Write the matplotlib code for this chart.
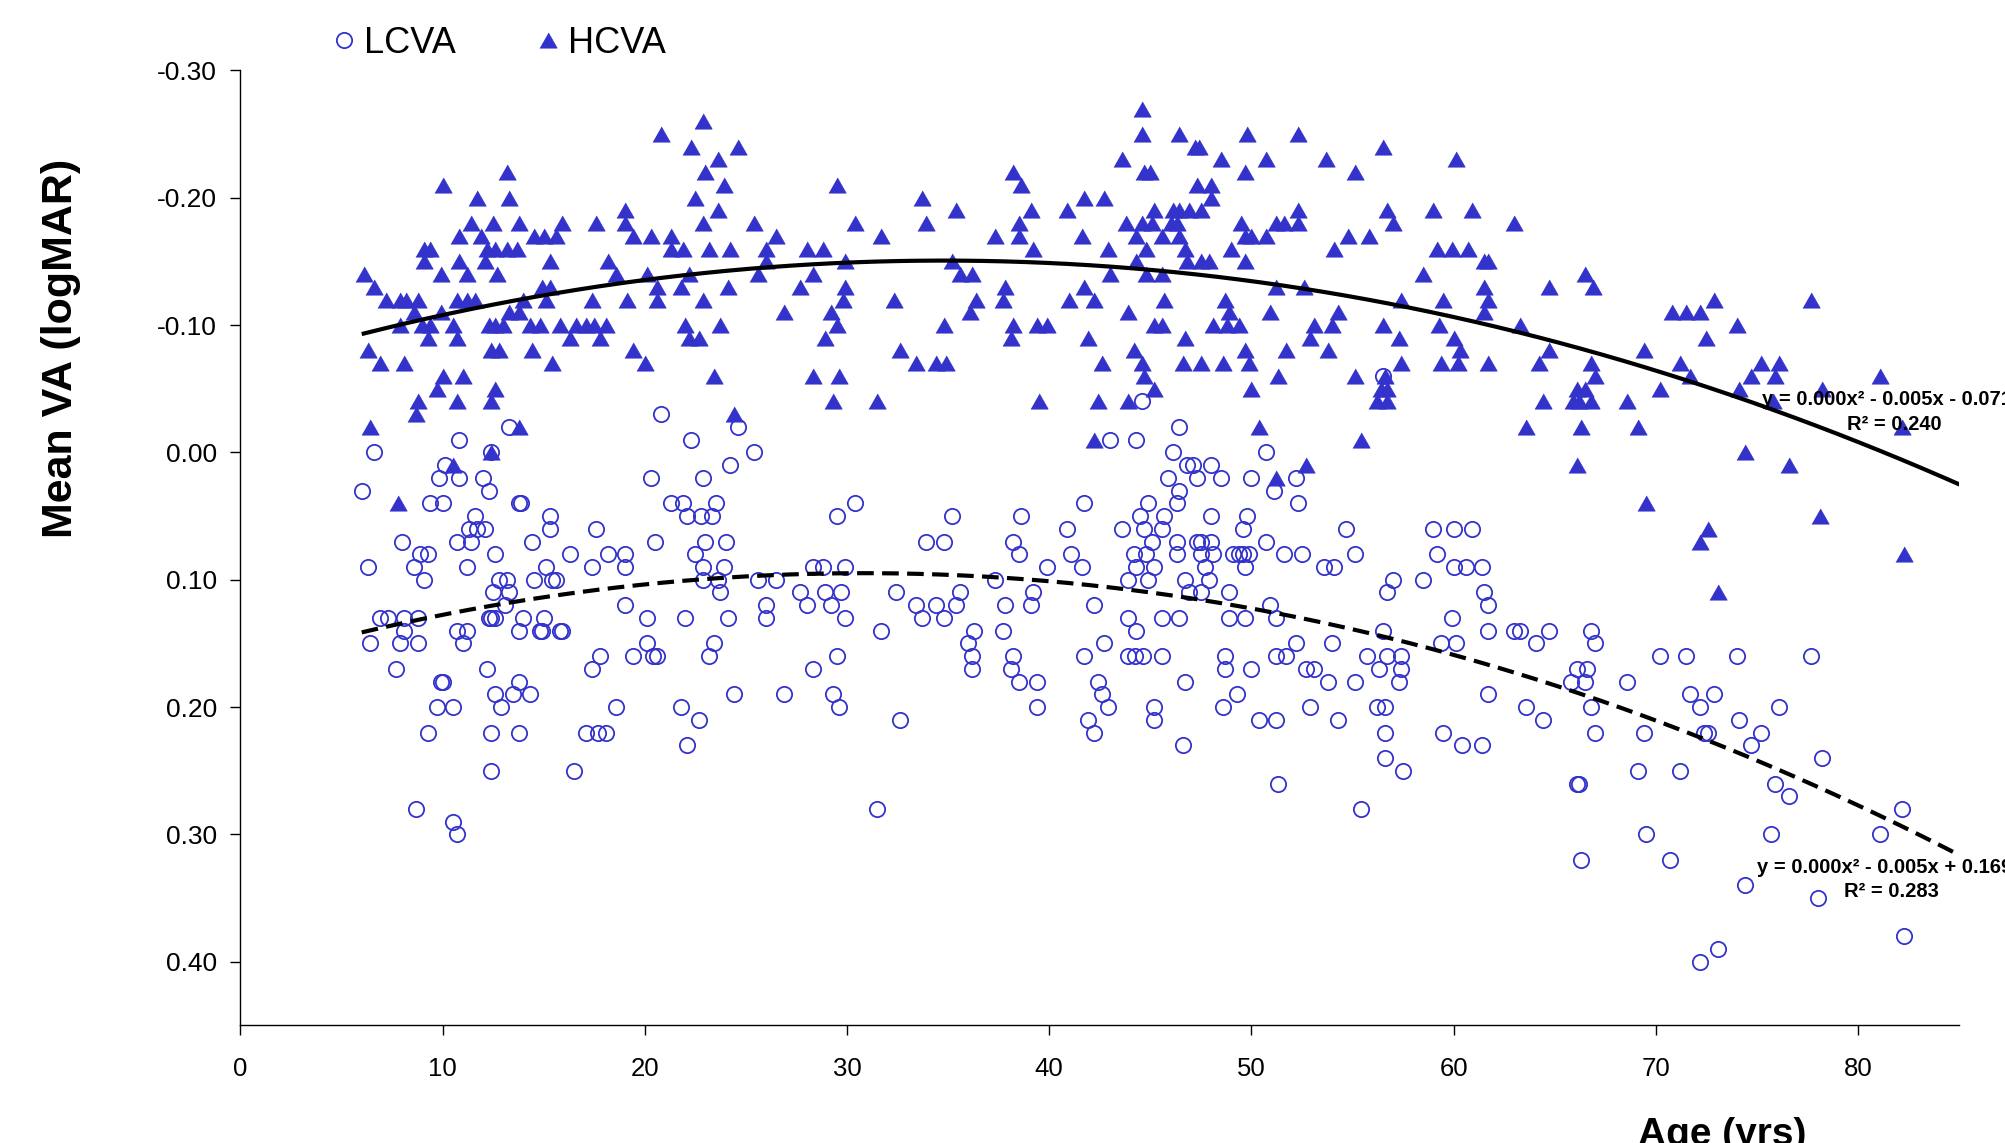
import numpy as np
import matplotlib
matplotlib.use("Agg")
import matplotlib.pyplot as plt

plt.rcParams['font.family'] = ['Liberation Sans', 'DejaVu Sans']
plt.rcParams['axes.unicode_minus'] = False

BLUE = '#3333CC'

# HCVA (triangles): age, mean VA
hcva_age = [
    22.9, 20.8, 22.3, 23.6, 24.6, 23.0, 23.9, 10.0, 13.2, 11.7, 13.3, 22.5, 19.0, 23.6,
    11.4, 12.5, 13.8, 15.9, 17.6, 19.0, 22.9,
    10.8, 11.9, 14.5, 15.0, 15.6, 19.4, 20.3, 21.3,
    9.1, 9.4, 12.2, 12.6, 13.2, 13.7, 21.3, 21.9, 23.2, 24.2,
    9.1, 10.8, 12.1, 15.3, 18.2,
    6.1, 9.9, 11.2, 12.7, 18.6, 20.1, 22.2,
    6.6, 14.9, 15.3, 20.6, 21.8, 24.1,
    7.2, 7.9, 8.2, 8.8, 10.7, 11.2, 11.6, 14.0, 15.1, 17.4, 19.1, 20.6, 22.9,
    8.6, 9.9, 13.3, 13.8,
    7.9, 9.0, 9.4, 10.5, 12.3, 12.6, 13.0, 14.3, 14.8, 15.8, 16.6, 17.1, 17.5, 18.1, 22.0, 23.7,
    9.3, 10.7, 16.3, 17.8, 22.2, 22.7,
    6.3, 12.4, 12.8, 14.4, 19.4,
    6.9, 8.1, 15.4, 20.0,
    10.0, 11.0, 23.4,
    9.7, 12.6,
    8.8, 10.7, 12.4,
    8.7, 24.4,
    6.4, 13.8,
    12.4, 10.5, 7.8,
    # 25-44
    29.5, 33.7, 35.4, 38.2, 38.6, 41.7, 42.7, 43.6,
    25.4, 30.4, 33.9, 39.1, 40.9, 38.5, 43.8,
    26.5, 31.7, 37.3, 38.5, 41.6, 44.3,
    26.0, 28.0, 28.8, 39.2, 42.9,
    26.0, 29.9, 35.2, 44.3,
    25.6, 28.3, 35.6, 36.2, 43.0,
    27.7, 29.9, 37.8, 41.7,
    29.8, 32.3, 36.4, 37.7, 41.0, 42.2,
    26.9, 29.2, 36.1, 43.9,
    29.5, 34.8, 38.2, 39.4, 39.9,
    28.9, 38.1, 41.9,
    32.6, 44.2,
    33.4, 34.4, 34.9, 42.6,
    28.3, 29.6,
    29.3, 31.5, 39.5, 42.4, 43.9,
    42.2,
    # 44-64
    44.6, 44.6, 46.4, 49.8, 52.3, 47.2, 47.4, 56.5, 48.5, 50.7, 53.7, 60.1,
    44.7, 45.0, 49.7, 55.1, 47.3, 48.0, 48.0,
    45.2, 46.1, 46.4, 46.9, 47.5, 52.3, 56.7, 59.0, 60.9,
    44.6, 45.1, 46.0, 46.3, 49.5, 51.2, 51.6, 52.3, 57.0, 63.0,
    45.6, 46.4, 49.7, 50.0, 50.7, 54.8, 55.8,
    44.8, 46.7, 49.0, 54.1, 59.2, 59.9, 60.7,
    46.8, 47.5, 47.9, 49.7, 61.5, 61.7,
    44.8, 45.6, 58.5,
    51.2, 52.6, 61.5,
    45.7, 48.7, 57.4, 59.5, 61.7,
    48.9, 50.9, 54.3, 61.5,
    45.2, 45.6, 48.1, 48.8, 49.4, 53.1, 54.0, 56.5, 59.3, 63.3,
    46.7, 52.9, 57.3, 60.0,
    49.7, 51.7, 53.8, 60.3,
    44.6, 46.6, 47.5, 48.6, 49.9, 57.4, 59.4, 60.2, 61.7, 64.2,
    44.7, 51.3, 55.1, 56.6,
    45.2, 50.0, 56.4, 56.7,
    56.2, 56.7, 64.4,
    50.4, 55.4, 63.6, 52.7, 51.2,
    # 64-83
    66.5, 64.7, 66.9, 72.9, 77.7, 70.8, 71.5, 72.2, 74.0, 72.5, 64.7, 69.4,
    66.8, 71.2, 75.2, 76.1,
    67.0, 71.7, 74.7, 75.9, 81.1,
    66.1, 66.5, 70.2, 74.1, 78.2,
    65.9, 66.2, 66.8, 68.6, 75.8,
    66.3, 69.1, 82.2,
    74.4, 76.6, 66.1,
    69.5, 78.1, 72.6, 72.2, 82.3, 73.1,
]
hcva_va = [
    -0.26, -0.25, -0.24, -0.23, -0.24, -0.22, -0.21, -0.21, -0.22, -0.20, -0.20, -0.20, -0.19, -0.19,
    -0.18, -0.18, -0.18, -0.18, -0.18, -0.18, -0.18,
    -0.17, -0.17, -0.17, -0.17, -0.17, -0.17, -0.17, -0.17,
    -0.16, -0.16, -0.16, -0.16, -0.16, -0.16, -0.16, -0.16, -0.16, -0.16,
    -0.15, -0.15, -0.15, -0.15, -0.15,
    -0.14, -0.14, -0.14, -0.14, -0.14, -0.14, -0.14,
    -0.13, -0.13, -0.13, -0.13, -0.13, -0.13,
    -0.12, -0.12, -0.12, -0.12, -0.12, -0.12, -0.12, -0.12, -0.12, -0.12, -0.12, -0.12, -0.12,
    -0.11, -0.11, -0.11, -0.11,
    -0.10, -0.10, -0.10, -0.10, -0.10, -0.10, -0.10, -0.10, -0.10, -0.10, -0.10, -0.10, -0.10, -0.10, -0.10, -0.10,
    -0.09, -0.09, -0.09, -0.09, -0.09, -0.09,
    -0.08, -0.08, -0.08, -0.08, -0.08,
    -0.07, -0.07, -0.07, -0.07,
    -0.06, -0.06, -0.06,
    -0.05, -0.05,
    -0.04, -0.04, -0.04,
    -0.03, -0.03,
    -0.02, -0.02,
    0.00, 0.01, 0.04,
    # 25-44
    -0.21, -0.20, -0.19, -0.22, -0.21, -0.20, -0.20, -0.23,
    -0.18, -0.18, -0.18, -0.19, -0.19, -0.18, -0.18,
    -0.17, -0.17, -0.17, -0.17, -0.17, -0.17,
    -0.16, -0.16, -0.16, -0.16, -0.16,
    -0.15, -0.15, -0.15, -0.15,
    -0.14, -0.14, -0.14, -0.14, -0.14,
    -0.13, -0.13, -0.13, -0.13,
    -0.12, -0.12, -0.12, -0.12, -0.12, -0.12,
    -0.11, -0.11, -0.11, -0.11,
    -0.10, -0.10, -0.10, -0.10, -0.10,
    -0.09, -0.09, -0.09,
    -0.08, -0.08,
    -0.07, -0.07, -0.07, -0.07,
    -0.06, -0.06,
    -0.04, -0.04, -0.04, -0.04, -0.04,
    -0.01,
    # 44-64
    -0.27, -0.25, -0.25, -0.25, -0.25, -0.24, -0.24, -0.24, -0.23, -0.23, -0.23, -0.23,
    -0.22, -0.22, -0.22, -0.22, -0.21, -0.21, -0.20,
    -0.19, -0.19, -0.19, -0.19, -0.19, -0.19, -0.19, -0.19, -0.19,
    -0.18, -0.18, -0.18, -0.18, -0.18, -0.18, -0.18, -0.18, -0.18, -0.18,
    -0.17, -0.17, -0.17, -0.17, -0.17, -0.17, -0.17,
    -0.16, -0.16, -0.16, -0.16, -0.16, -0.16, -0.16,
    -0.15, -0.15, -0.15, -0.15, -0.15, -0.15,
    -0.14, -0.14, -0.14,
    -0.13, -0.13, -0.13,
    -0.12, -0.12, -0.12, -0.12, -0.12,
    -0.11, -0.11, -0.11, -0.11,
    -0.10, -0.10, -0.10, -0.10, -0.10, -0.10, -0.10, -0.10, -0.10, -0.10,
    -0.09, -0.09, -0.09, -0.09,
    -0.08, -0.08, -0.08, -0.08,
    -0.07, -0.07, -0.07, -0.07, -0.07, -0.07, -0.07, -0.07, -0.07, -0.07,
    -0.06, -0.06, -0.06, -0.06,
    -0.05, -0.05, -0.05, -0.05,
    -0.04, -0.04, -0.04,
    -0.02, -0.01, -0.02, 0.01, 0.02,
    # 64-83
    -0.14, -0.13, -0.13, -0.12, -0.12, -0.11, -0.11, -0.11, -0.10, -0.09, -0.08, -0.08,
    -0.07, -0.07, -0.07, -0.07,
    -0.06, -0.06, -0.06, -0.06, -0.06,
    -0.05, -0.05, -0.05, -0.05, -0.05,
    -0.04, -0.04, -0.04, -0.04, -0.04,
    -0.02, -0.02, -0.02,
    0.00, 0.01, 0.01,
    0.04, 0.05, 0.06, 0.07, 0.08, 0.11,
]

# LCVA (open circles): age, mean VA
lcva_age = [
    20.8, 13.3, 24.6, 56.5, 44.6, 46.4,
    # 6-25
    6.6, 10.8, 12.4, 10.1, 9.8, 10.8, 12.0, 6.0, 12.3, 9.4, 10.0, 13.8, 13.9,
    22.3, 24.2, 20.3, 22.9, 21.3, 21.9, 23.5,
    11.6, 15.3, 22.1, 22.8, 23.3,
    11.3, 11.7, 12.1, 15.3, 17.6,
    8.0, 10.7, 11.4, 14.4, 20.5, 23.0, 24.0,
    8.9, 9.3, 12.6, 16.3, 18.2, 19.0, 22.5,
    6.3, 8.6, 11.2, 15.1, 17.4, 19.0, 22.9, 23.9,
    9.1, 12.8, 13.2, 14.5, 15.4, 15.6, 22.9, 23.6,
    12.5, 13.3, 23.7,
    13.1, 19.0,
    6.9, 7.3, 8.1, 8.8, 12.3, 12.4, 12.6, 14.0, 15.0, 20.1, 22.0, 24.1,
    8.1, 10.7, 11.2, 13.8, 14.8, 14.9, 15.8, 15.9,
    6.4, 7.9, 8.8, 11.0, 20.1, 23.4,
    17.8, 19.4, 20.4, 20.6, 23.2,
    7.7, 12.2, 17.4,
    9.9, 10.0, 13.8,
    12.6, 13.5, 14.3, 24.4,
    9.7, 10.5, 12.9, 18.6, 21.8,
    22.7,
    9.3, 12.4, 13.8, 17.1, 17.7, 18.1,
    22.1, 12.4, 16.5, 8.7, 10.5, 10.7,
    # 25-44
    25.4, 43.0, 44.3, 30.4, 29.5, 35.2, 38.6, 41.7, 33.9, 34.8, 38.2, 38.5, 40.9, 43.6,
    41.1, 44.2,
    28.3, 28.8, 29.9, 39.9, 41.6, 44.3,
    25.6, 26.5, 37.3, 43.9,
    27.7, 28.9, 29.7, 32.4, 35.6, 39.2,
    26.0, 28.0, 29.2, 33.4, 34.4, 35.4, 37.8, 39.1, 42.2,
    26.0, 29.9, 33.7, 34.8, 43.9,
    31.7, 36.3, 37.7, 44.3,
    36.0, 42.7,
    29.5, 36.2, 38.2, 41.7, 43.9, 44.25,
    28.3, 36.2, 38.1,
    38.5, 39.4, 42.4,
    26.9, 29.3, 42.6,
    29.6, 39.4, 42.9,
    32.6, 41.9, 42.2, 31.5,
    # 44-64
    46.1, 50.7, 46.8, 47.1, 48.0, 45.9, 47.3, 48.5, 50.0, 52.2, 51.1, 46.4, 44.9, 46.3, 52.3,
    44.5, 45.7, 48.0, 49.8,
    44.7, 45.6, 49.6, 54.7, 59.0, 60.0, 60.9,
    45.1, 46.3, 47.3, 47.5, 48.0, 50.7,
    44.8, 46.3, 47.5, 48.1, 49.1, 49.4, 49.6, 49.9, 51.6, 52.5, 55.1, 59.2,
    45.2, 47.7, 49.7, 53.6, 54.1, 60.0, 60.6, 61.4,
    44.9, 46.7, 47.9, 57.0, 58.5,
    46.9, 47.5, 48.9, 56.7, 61.5,
    50.9, 61.7,
    45.6, 46.4, 48.9, 49.7, 51.2, 59.9,
    56.5, 61.7, 63.0, 63.3,
    52.2, 54.0, 59.4, 60.1, 64.1,
    44.65, 45.6, 48.7, 51.2, 51.7, 55.7, 56.7, 57.4,
    48.7, 50.0, 52.7, 53.1, 56.3, 57.4,
    46.7, 53.8, 55.1, 57.3,
    49.3, 61.7,
    45.2, 48.6, 52.9, 56.2, 56.6, 63.6,
    45.2, 50.4, 51.2, 54.3, 64.4,
    56.6, 59.5,
    46.6, 60.4, 61.4,
    56.6, 57.5, 51.3, 55.4,
    # 64-83
    64.7, 66.8, 67.0, 70.2, 71.5, 74.0, 77.7, 66.1, 66.6, 65.8, 66.5, 68.6, 71.7, 72.9,
    66.8, 72.2, 76.1, 74.1, 67.0, 69.4, 72.4, 72.6, 75.2, 74.7, 78.2, 69.1, 71.2,
    66.1, 66.2, 75.9, 76.6, 82.2, 69.5, 75.7, 81.1, 66.3, 70.7, 74.4, 78.0, 82.3, 73.1, 72.2,
]
lcva_va = [
    -0.03, -0.02, -0.02, -0.06, -0.04, -0.02,
    # 6-25
    0.00, -0.01, 0.00, 0.01, 0.02, 0.02, 0.02, 0.03, 0.03, 0.04, 0.04, 0.04, 0.04,
    -0.01, 0.01, 0.02, 0.02, 0.04, 0.04, 0.04,
    0.05, 0.05, 0.05, 0.05, 0.05,
    0.06, 0.06, 0.06, 0.06, 0.06,
    0.07, 0.07, 0.07, 0.07, 0.07, 0.07, 0.07,
    0.08, 0.08, 0.08, 0.08, 0.08, 0.08, 0.08,
    0.09, 0.09, 0.09, 0.09, 0.09, 0.09, 0.09, 0.09,
    0.10, 0.10, 0.10, 0.10, 0.10, 0.10, 0.10, 0.10,
    0.11, 0.11, 0.11,
    0.12, 0.12,
    0.13, 0.13, 0.13, 0.13, 0.13, 0.13, 0.13, 0.13, 0.13, 0.13, 0.13, 0.13,
    0.14, 0.14, 0.14, 0.14, 0.14, 0.14, 0.14, 0.14,
    0.15, 0.15, 0.15, 0.15, 0.15, 0.15,
    0.16, 0.16, 0.16, 0.16, 0.16,
    0.17, 0.17, 0.17,
    0.18, 0.18, 0.18,
    0.19, 0.19, 0.19, 0.19,
    0.20, 0.20, 0.20, 0.20, 0.20,
    0.21,
    0.22, 0.22, 0.22, 0.22, 0.22, 0.22,
    0.23, 0.25, 0.25, 0.28, 0.29, 0.30,
    # 25-44
    0.00, -0.01, -0.01, 0.04, 0.05, 0.05, 0.05, 0.04, 0.07, 0.07, 0.07, 0.08, 0.06, 0.06,
    0.08, 0.08,
    0.09, 0.09, 0.09, 0.09, 0.09, 0.09,
    0.10, 0.10, 0.10, 0.10,
    0.11, 0.11, 0.11, 0.11, 0.11, 0.11,
    0.12, 0.12, 0.12, 0.12, 0.12, 0.12, 0.12, 0.12, 0.12,
    0.13, 0.13, 0.13, 0.13, 0.13,
    0.14, 0.14, 0.14, 0.14,
    0.15, 0.15,
    0.16, 0.16, 0.16, 0.16, 0.16, 0.16,
    0.17, 0.17, 0.17,
    0.18, 0.18, 0.18,
    0.19, 0.19, 0.19,
    0.20, 0.20, 0.20,
    0.21, 0.21, 0.22, 0.28,
    # 44-64
    0.00, 0.00, 0.01, 0.01, 0.01, 0.02, 0.02, 0.02, 0.02, 0.02, 0.03, 0.03, 0.04, 0.04, 0.04,
    0.05, 0.05, 0.05, 0.05,
    0.06, 0.06, 0.06, 0.06, 0.06, 0.06, 0.06,
    0.07, 0.07, 0.07, 0.07, 0.07, 0.07,
    0.08, 0.08, 0.08, 0.08, 0.08, 0.08, 0.08, 0.08, 0.08, 0.08, 0.08, 0.08,
    0.09, 0.09, 0.09, 0.09, 0.09, 0.09, 0.09, 0.09,
    0.10, 0.10, 0.10, 0.10, 0.10,
    0.11, 0.11, 0.11, 0.11, 0.11,
    0.12, 0.12,
    0.13, 0.13, 0.13, 0.13, 0.13, 0.13,
    0.14, 0.14, 0.14, 0.14,
    0.15, 0.15, 0.15, 0.15, 0.15,
    0.16, 0.16, 0.16, 0.16, 0.16, 0.16, 0.16, 0.16,
    0.17, 0.17, 0.17, 0.17, 0.17, 0.17,
    0.18, 0.18, 0.18, 0.18,
    0.19, 0.19,
    0.20, 0.20, 0.20, 0.20, 0.20, 0.20,
    0.21, 0.21, 0.21, 0.21, 0.21,
    0.22, 0.22,
    0.23, 0.23, 0.23,
    0.24, 0.25, 0.26, 0.28,
    # 64-83
    0.14, 0.14, 0.15, 0.16, 0.16, 0.16, 0.16, 0.17, 0.17, 0.18, 0.18, 0.18, 0.19, 0.19,
    0.20, 0.20, 0.20, 0.21, 0.22, 0.22, 0.22, 0.22, 0.22, 0.23, 0.24, 0.25, 0.25,
    0.26, 0.26, 0.26, 0.27, 0.28, 0.30, 0.30, 0.30, 0.32, 0.32, 0.34, 0.35, 0.38, 0.39, 0.40,
]

hcva_eq = "y = 0.000x² - 0.005x - 0.071\nR² = 0.240"
lcva_eq = "y = 0.000x² - 0.005x + 0.169\nR² = 0.283"

x_ticks = [0, 10, 20, 30, 40, 50, 60, 70, 80]
y_ticks = [-0.30, -0.20, -0.10, 0.00, 0.10, 0.20, 0.30, 0.40]

TRIANGLE = [(-1, -0.88), (1, -0.88), (0, 0.88)]


def plot_va_vs_age():
    fig = plt.figure(figsize=(20.05, 11.43), dpi=100)
    ax = fig.add_axes([0.1199, 0.1028, 0.8572, 0.8357])

    ax.plot(lcva_age, lcva_va, linestyle='none', marker='o', ms=11,
            mfc='none', mec=BLUE, mew=1.3, label='LCVA', zorder=2)
    ax.plot(hcva_age, hcva_va, linestyle='none', marker=TRIANGLE, ms=12.5,
            mfc=BLUE, mec=BLUE, mew=0.5, label='HCVA', zorder=3)

    # polynomial (order 2) trend lines
    xs = np.linspace(min(hcva_age), 85, 300)
    p_h = np.polyfit(hcva_age, hcva_va, 2)
    ax.plot(xs, np.polyval(p_h, xs), color='black', lw=3, zorder=4)
    xs = np.linspace(min(lcva_age), 85, 300)
    p_l = np.polyfit(lcva_age, lcva_va, 2)
    ax.plot(xs, np.polyval(p_l, xs), color='black', lw=3, dashes=(4, 2), zorder=4)

    # equation labels (run past the figure edge, as in the original)
    h1, h2 = hcva_eq.split('\n')
    l1, l2 = lcva_eq.split('\n')
    kw = dict(fontsize=14.5, fontweight='bold', va='baseline', clip_on=False, zorder=5)
    ax.text(75.25, -0.0373, h1, ha='left', **kw)
    ax.text(81.79, -0.0177, h2, ha='center', **kw)
    ax.text(74.99, 0.3303, l1, ha='left', **kw)
    ax.text(81.63, 0.3491, l2, ha='center', **kw)

    ax.set_xlim(0, 85)
    ax.set_ylim(0.45, -0.30)
    ax.set_xticks(x_ticks)
    ax.set_yticks(y_ticks)
    ax.set_yticklabels([f"{v:.2f}" for v in y_ticks])

    for side in ('top', 'right'):
        ax.spines[side].set_visible(False)
    for side in ('left', 'bottom'):
        ax.spines[side].set_linewidth(1.0)
    ax.tick_params(axis='both', direction='out', length=7, width=1)
    ax.tick_params(axis='x', pad=16, labelsize=18.5)
    ax.tick_params(axis='y', pad=10, labelsize=19)

    fig.text(0.0306, 0.6955, 'Mean VA (logMAR)', rotation=90, fontsize=31,
             fontweight='bold', ha='center', va='center')
    fig.text(0.859, -0.002, 'Age (yrs)', fontsize=28, fontweight='bold',
             ha='center', va='baseline')

    fig.legend(loc='center left', bbox_to_anchor=(0.1661, 0.962), ncol=2,
               frameon=False, fontsize=26, handlelength=0.6, handletextpad=0.26,
               columnspacing=2.25, borderpad=0, borderaxespad=0)

    fig.savefig('out.png', dpi=100)


if __name__ == "__main__":
    plot_va_vs_age()
